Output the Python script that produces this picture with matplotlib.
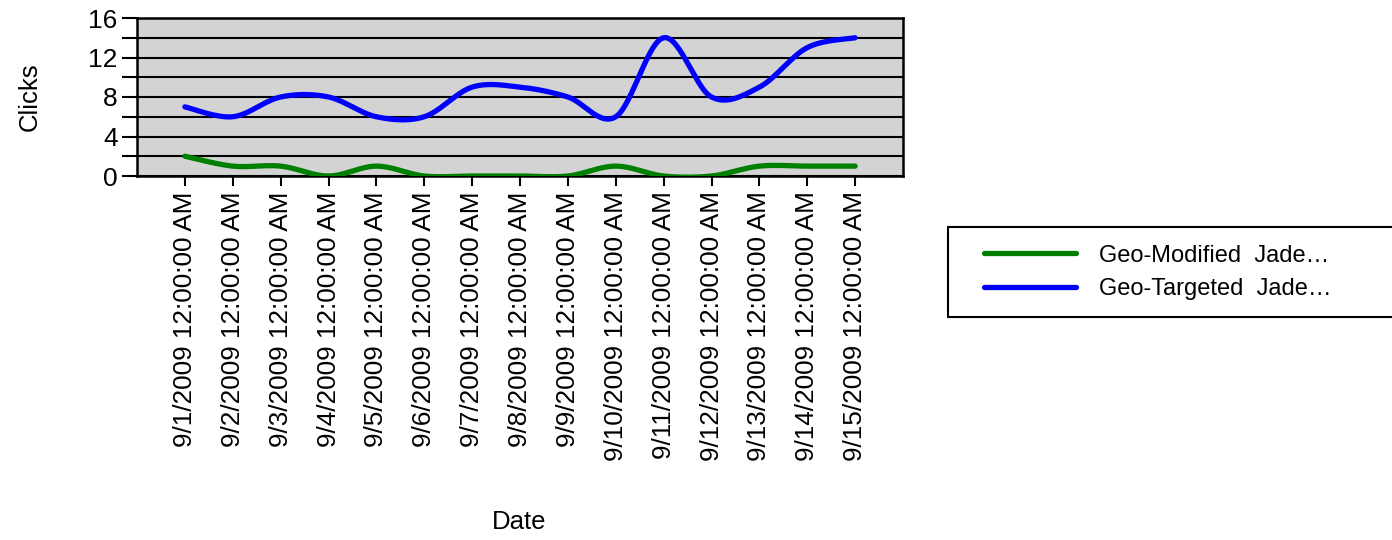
import numpy as np
import matplotlib
matplotlib.use("Agg")
import matplotlib.pyplot as plt
from matplotlib.ticker import MultipleLocator
from matplotlib.patches import Rectangle

plt.rcParams['font.family'] = ['Liberation Sans', 'DejaVu Sans']

dates = ["9/1/2009", "9/2/2009", "9/3/2009", "9/4/2009", "9/5/2009", "9/6/2009",
         "9/7/2009", "9/8/2009", "9/9/2009", "9/10/2009", "9/11/2009", "9/12/2009",
         "9/13/2009", "9/14/2009", "9/15/2009"]
tick_labels = [d + " 12:00:00 AM" for d in dates]
geo_modified = [2, 1, 1, 0, 1, 0, 0, 0, 0, 1, 0, 0, 1, 1, 1]
geo_targeted = [7, 6, 8, 8, 6, 6, 9, 9, 8, 6, 14, 8, 9, 13, 14]
series_names = ["Geo-Modified  Jade\u2026", "Geo-Targeted  Jade\u2026"]
series_colors = ["#008000", "#0000FF"]


def cardinal_spline(x, y, tension=0.5, n=30):
    x = np.asarray(x, float)
    y = np.asarray(y, float)
    px = np.concatenate([[x[0]], x, [x[-1]]])
    py = np.concatenate([[y[0]], y, [y[-1]]])
    xs, ys = [], []
    t = np.linspace(0, 1, n, endpoint=False)
    h00 = 2 * t**3 - 3 * t**2 + 1
    h10 = t**3 - 2 * t**2 + t
    h01 = -2 * t**3 + 3 * t**2
    h11 = t**3 - t**2
    for i in range(1, len(px) - 2):
        m1x = tension * (px[i + 1] - px[i - 1])
        m2x = tension * (px[i + 2] - px[i])
        m1y = tension * (py[i + 1] - py[i - 1])
        m2y = tension * (py[i + 2] - py[i])
        xs.append(h00 * px[i] + h10 * m1x + h01 * px[i + 1] + h11 * m2x)
        ys.append(h00 * py[i] + h10 * m1y + h01 * py[i + 1] + h11 * m2y)
    xs.append([x[-1]])
    ys.append([y[-1]])
    return np.concatenate(xs), np.concatenate(ys)


W, H = 1392, 540
fig = plt.figure(figsize=(W / 100, H / 100), dpi=100)
ax = fig.add_axes([137 / W, 1 - 176 / H, (903 - 137) / W, (176 - 18) / H])
ax.set_facecolor("#D3D3D3")

xidx = np.arange(len(dates))
lines = []
for vals, name, col in zip([geo_modified, geo_targeted], series_names, series_colors):
    sx, sy = cardinal_spline(xidx, vals)
    ln, = ax.plot(sx, sy, color=col, lw=3.8, solid_capstyle='round', label=name, zorder=3)
    lines.append(ln)

ax.set_xlim(-1, len(dates))
ax.set_ylim(0, 16)
ax.yaxis.set_major_locator(MultipleLocator(4))
ax.yaxis.set_minor_locator(MultipleLocator(2))
ax.grid(True, which='both', axis='y', color='black', lw=1.5, zorder=1)
ax.set_axisbelow(True)
ax.set_xticks(xidx)
ax.set_xticklabels(tick_labels, rotation=90, fontsize=18.8)
ax.tick_params(axis='y', which='major', labelsize=19, length=11, width=1.5, direction='out', pad=3)
ax.tick_params(axis='y', which='minor', length=11, width=1.5, direction='out')
ax.tick_params(axis='x', length=7, width=1.5, direction='out', pad=4)
for s in ax.spines.values():
    s.set_linewidth(1.8)
    s.set_color('black')

fig.text(30 / W, 1 - 97 / H, "Clicks", rotation=90, ha='center', va='center', fontsize=18.5)
fig.text(519 / W, 1 - 522 / H, "Date", ha='center', va='center', fontsize=18.5)

# legend box
fig.patches.append(Rectangle((948 / W, 1 - 317 / H), (1400 - 948) / W, 90 / H,
                             transform=fig.transFigure, facecolor='white',
                             edgecolor='black', lw=1.5, zorder=0))
leg = fig.legend(handles=lines, labels=series_names,
                 bbox_to_anchor=(984 / W, 1 - 272.5 / H),
                 loc='center left', fontsize=17, frameon=False,
                 handlelength=3.9, handletextpad=0.95,
                 borderaxespad=0, borderpad=0, labelspacing=0.5)

fig.savefig("out.png", dpi=100)
